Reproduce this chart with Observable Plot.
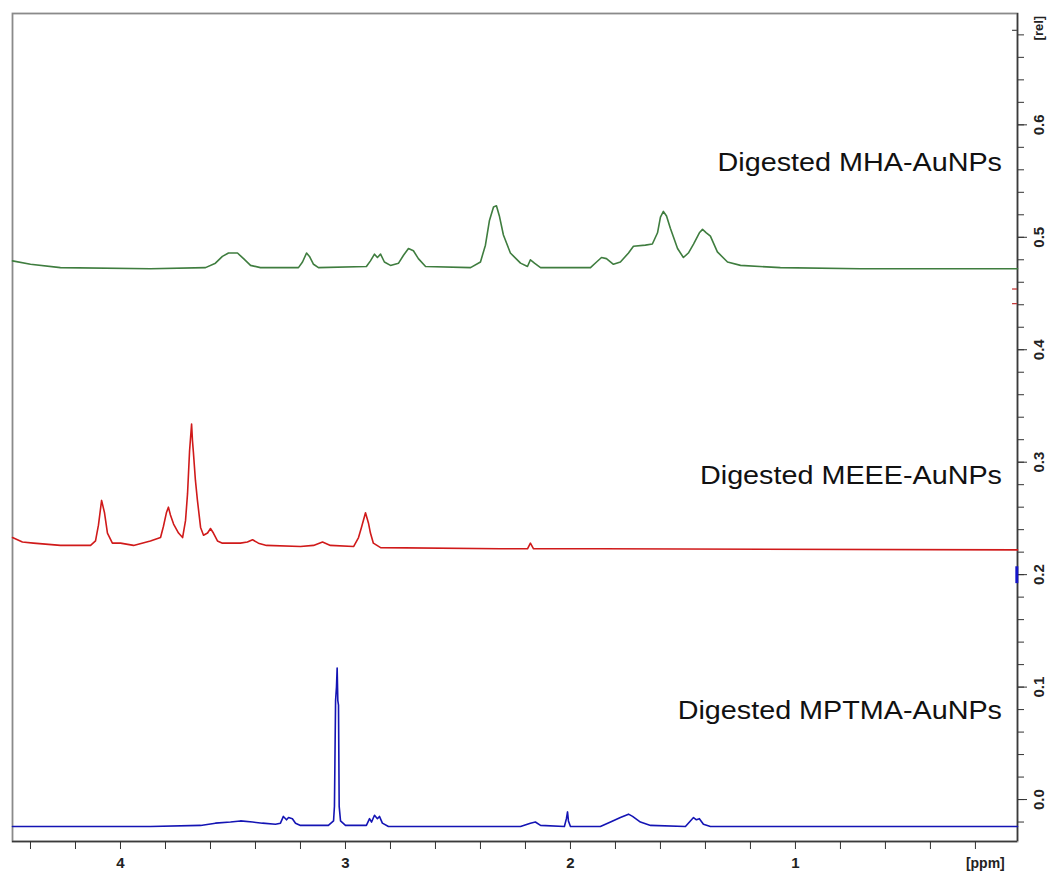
<!DOCTYPE html>
<html><head><meta charset="utf-8">
<script src="https://cdn.jsdelivr.net/npm/d3@7"></script>
<script src="https://cdn.jsdelivr.net/npm/@observablehq/plot@0.6"></script>
<style>body{margin:0;background:#fff;} #chart{width:1054px;height:878px;}</style>
</head><body><div id="chart"></div>
<script>
// [ppm, rel]
const mha = [[4.480,0.479],[4.400,0.476],[4.267,0.473],[3.867,0.472],[3.622,0.473],[3.578,0.477],[3.547,0.483],[3.520,0.486],[3.498,0.486],[3.480,0.486],[3.453,0.481],[3.422,0.475],[3.378,0.473],[3.209,0.473],[3.191,0.478],[3.173,0.486],[3.160,0.483],[3.142,0.476],[3.120,0.473],[2.907,0.474],[2.889,0.479],[2.871,0.485],[2.858,0.482],[2.844,0.485],[2.827,0.478],[2.800,0.475],[2.764,0.477],[2.742,0.484],[2.720,0.490],[2.698,0.488],[2.676,0.481],[2.644,0.474],[2.444,0.473],[2.400,0.478],[2.378,0.493],[2.360,0.515],[2.342,0.527],[2.329,0.528],[2.316,0.519],[2.298,0.502],[2.267,0.486],[2.222,0.477],[2.191,0.474],[2.178,0.480],[2.160,0.477],[2.133,0.473],[1.911,0.473],[1.884,0.478],[1.862,0.482],[1.840,0.481],[1.809,0.476],[1.778,0.478],[1.742,0.486],[1.720,0.492],[1.667,0.493],[1.636,0.494],[1.613,0.504],[1.600,0.518],[1.587,0.523],[1.573,0.519],[1.556,0.508],[1.524,0.490],[1.498,0.482],[1.476,0.486],[1.453,0.494],[1.427,0.504],[1.413,0.507],[1.396,0.504],[1.378,0.501],[1.347,0.487],[1.302,0.478],[1.244,0.475],[1.067,0.473],[0.711,0.472],[0.013,0.472]];
const meee = [[4.480,0.233],[4.436,0.229],[4.387,0.228],[4.267,0.226],[4.133,0.226],[4.111,0.230],[4.098,0.244],[4.084,0.266],[4.071,0.255],[4.058,0.237],[4.036,0.228],[4.000,0.228],[3.942,0.226],[3.867,0.230],[3.822,0.233],[3.809,0.243],[3.796,0.255],[3.787,0.260],[3.778,0.253],[3.764,0.245],[3.742,0.237],[3.724,0.233],[3.711,0.248],[3.702,0.272],[3.693,0.310],[3.684,0.334],[3.680,0.319],[3.676,0.309],[3.667,0.284],[3.658,0.266],[3.644,0.242],[3.631,0.235],[3.613,0.237],[3.600,0.241],[3.587,0.237],[3.569,0.230],[3.547,0.228],[3.467,0.228],[3.436,0.229],[3.413,0.231],[3.387,0.228],[3.351,0.226],[3.200,0.225],[3.142,0.226],[3.102,0.229],[3.067,0.226],[2.964,0.225],[2.942,0.233],[2.929,0.242],[2.911,0.255],[2.898,0.246],[2.889,0.237],[2.876,0.228],[2.844,0.224],[2.311,0.223],[2.191,0.223],[2.178,0.228],[2.164,0.223],[1.867,0.223],[0.013,0.222]];
const mptma = [[4.480,-0.024],[3.867,-0.024],[3.644,-0.023],[3.578,-0.021],[3.511,-0.020],[3.467,-0.019],[3.413,-0.020],[3.369,-0.021],[3.311,-0.022],[3.289,-0.021],[3.276,-0.015],[3.262,-0.018],[3.253,-0.016],[3.236,-0.017],[3.222,-0.021],[3.200,-0.023],[3.076,-0.023],[3.053,-0.019],[3.049,-0.006],[3.044,0.088],[3.040,0.100],[3.037,0.117],[3.034,0.088],[3.031,0.084],[3.028,-0.006],[3.022,-0.019],[3.000,-0.023],[2.907,-0.023],[2.893,-0.017],[2.884,-0.020],[2.871,-0.014],[2.858,-0.017],[2.849,-0.015],[2.836,-0.021],[2.809,-0.024],[2.222,-0.024],[2.178,-0.021],[2.156,-0.020],[2.133,-0.023],[2.027,-0.024],[2.018,-0.017],[2.013,-0.011],[2.009,-0.019],[2.000,-0.024],[1.867,-0.024],[1.822,-0.020],[1.778,-0.016],[1.742,-0.013],[1.724,-0.015],[1.689,-0.020],[1.644,-0.023],[1.489,-0.024],[1.467,-0.019],[1.453,-0.016],[1.440,-0.018],[1.427,-0.017],[1.409,-0.022],[1.378,-0.024],[0.013,-0.024]];

const seriesNames = ["Digested MHA-AuNPs", "Digested MEEE-AuNPs", "Digested MPTMA-AuNPs"];
const seriesLabelRel = [0.559, 0.281, 0.072];
const seriesColors = ["#3f7d3f", "#d01a1a", "#1414b4"];

const xTickLabels = [4, 3, 2, 1];
const xMinorTicks = [4.4, 4.2, 4.0, 3.8, 3.6, 3.4, 3.2, 3.0, 2.8, 2.6, 2.4, 2.2, 2.0, 1.8, 1.6, 1.4, 1.2, 1.0, 0.8, 0.6, 0.4, 0.2];
const yTickLabels = [0.0, 0.1, 0.2, 0.3, 0.4, 0.5, 0.6];
const yMinorTicks = [-0.02, 0.00, 0.02, 0.04, 0.06, 0.08, 0.10, 0.12, 0.14, 0.16, 0.18, 0.20, 0.22, 0.24, 0.26, 0.28, 0.30, 0.32, 0.34, 0.36, 0.38, 0.40, 0.42, 0.44, 0.46, 0.48, 0.50, 0.52, 0.54, 0.56, 0.58, 0.60, 0.62, 0.64, 0.66, 0.68];
const redMarks = [0.454, 0.441];

const xDomain = [4.48, 0.013];
const yDomain = [-0.0373, 0.699];

const labelRows = seriesNames.map((name, i) => ({name, rel: seriesLabelRel[i]}));
const font = "'Liberation Sans', Arial, Helvetica, sans-serif";

const chart = Plot.plot({
  width: 1054,
  height: 878,
  marginLeft: 12,
  marginRight: 37,
  marginTop: 13,
  marginBottom: 37,
  style: {fontFamily: font, background: "#fff"},
  x: {domain: xDomain, axis: null},
  y: {domain: yDomain, axis: null},
  marks: [
    Plot.frame({stroke: "#8a8a8a", strokeWidth: 1.8}),
    Plot.ruleX([xDomain[1]], {stroke: "#3a3a3a", strokeWidth: 1.5}),
    Plot.ruleY([yDomain[0]], {stroke: "#3a3a3a", strokeWidth: 1.5}),
    Plot.axisY({anchor: "right", ticks: yMinorTicks, tickSize: 6, tickFormat: () => "", label: null, stroke: "#333"}),
    Plot.axisY({anchor: "right", ticks: yTickLabels, tickSize: 9, tickFormat: () => "", label: null, stroke: "#333"}),
    Plot.axisX({anchor: "bottom", ticks: xMinorTicks, tickSize: 8, tickFormat: () => "", label: null, stroke: "#333"}),
    Plot.text(yTickLabels, {y: d => d, text: d => d.toFixed(1), frameAnchor: "right", dx: 22, rotate: -90, textAnchor: "middle", lineAnchor: "middle", fontWeight: "bold", fontSize: 15, fill: "#222"}),
    Plot.text(["[rel]"], {y: [0.686], text: d => d, frameAnchor: "right", dx: 21, rotate: -90, textAnchor: "middle", lineAnchor: "middle", fontWeight: "bold", fontSize: 13, fill: "#222"}),
    Plot.text(xTickLabels, {x: d => d, text: d => String(d), frameAnchor: "bottom", dy: 22, lineAnchor: "middle", fontWeight: "bold", fontSize: 15, fill: "#222"}),
    Plot.text(["[ppm]"], {x: [0.156], text: d => d, frameAnchor: "bottom", dy: 22, lineAnchor: "middle", fontWeight: "bold", fontSize: 14, fill: "#222"}),
    Plot.ruleY(redMarks, {y: d => d, x1: 0.035, x2: 0.013, stroke: "#c43a3a", strokeWidth: 1.3}),
    Plot.ruleY([0.684], {y: d => d, x1: 0.035, x2: 0.013, stroke: "#555", strokeWidth: 1.3}),
    Plot.ruleX([0.016], {y1: 0.192, y2: 0.207, stroke: "#1414c8", strokeWidth: 3}),
    Plot.line(mha, {x: d => d[0], y: d => d[1], stroke: seriesColors[0], strokeWidth: 1.6}),
    Plot.line(meee, {x: d => d[0], y: d => d[1], stroke: seriesColors[1], strokeWidth: 1.6}),
    Plot.line(mptma, {x: d => d[0], y: d => d[1], stroke: seriesColors[2], strokeWidth: 1.6}),
    Plot.text(labelRows, {x: 0.082, y: "rel", text: "name", textAnchor: "end", lineAnchor: "bottom", fontSize: 25, fill: "#111", className: "spec-label"})
  ]
});
document.getElementById("chart").appendChild(chart);
chart.querySelectorAll(".spec-label text").forEach(t => {
  const w = t.getComputedTextLength();
  t.setAttribute("textLength", (w * 1.15).toFixed(1));
  t.setAttribute("lengthAdjust", "spacingAndGlyphs");
});
</script>
</body></html>
